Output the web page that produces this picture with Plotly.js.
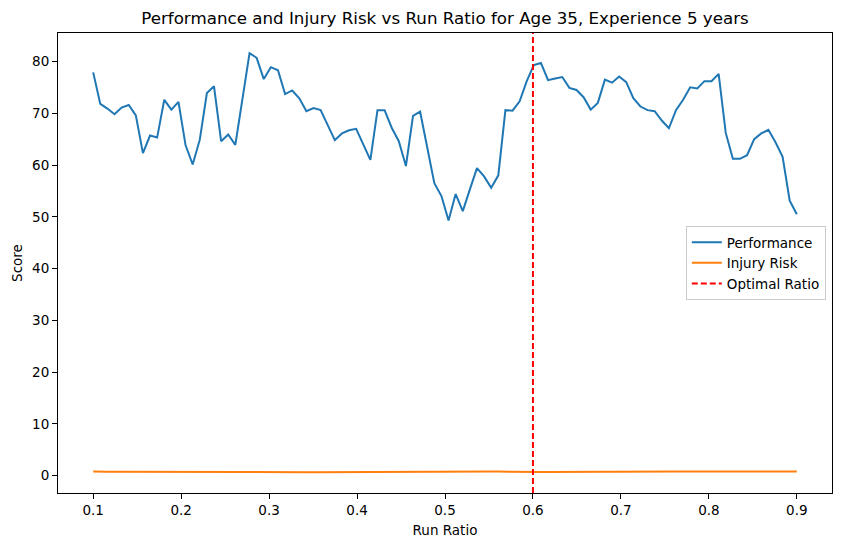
<!DOCTYPE html>
<html>
<head>
<meta charset="utf-8">
<script src="https://cdn.plot.ly/plotly-3.0.1.min.js"></script>
<style>html,body{margin:0;padding:0;background:#fff;}#chart{width:841px;height:547px;}</style>
</head>
<body>
<div id="chart"></div>
<script>
const xStart = 0.1;
const xEnd = 0.9;
const performance = [
  77.9, 71.8, 70.9, 69.8, 71.1, 71.6, 69.6, 62.3, 65.7, 65.3,
  72.6, 70.7, 72.2, 63.8, 60.1, 64.9, 73.9, 75.2, 64.6, 65.9,
  63.9, 72.9, 81.6, 80.7, 76.6, 78.9, 78.3, 73.7, 74.4, 72.9,
  70.4, 71.0, 70.6, 67.7, 64.8, 66.1, 66.7, 67.0, 63.9, 61.0,
  70.6, 70.6, 67.2, 64.6, 59.8, 69.5, 70.3, 63.5, 56.5, 54.0,
  49.3, 54.4, 51.1, 55.3, 59.4, 57.8, 55.6, 58.0, 70.6, 70.5,
  72.3, 76.2, 79.3, 79.7, 76.4, 76.7, 77.0, 74.9, 74.5, 73.1,
  70.7, 72.0, 76.5, 75.9, 77.1, 76.0, 72.9, 71.3, 70.6, 70.4,
  68.6, 67.1, 70.6, 72.6, 75.0, 74.8, 76.2, 76.2, 77.6, 66.2,
  61.2, 61.2, 61.9, 65.0, 66.1, 66.8, 64.4, 61.6, 53.1, 50.5
];
const injuryRisk = [
  0.78, 0.72, 0.74, 0.76, 0.75, 0.74, 0.72, 0.70, 0.71, 0.70,
  0.72, 0.74, 0.73, 0.70, 0.71, 0.72, 0.71, 0.73, 0.72, 0.69,
  0.68, 0.70, 0.71, 0.72, 0.74, 0.73, 0.71, 0.70, 0.68, 0.66,
  0.67, 0.66, 0.67, 0.68, 0.70, 0.69, 0.70, 0.71, 0.74, 0.72,
  0.71, 0.73, 0.76, 0.82, 0.79, 0.77, 0.82, 0.84, 0.83, 0.86,
  0.88, 0.87, 0.86, 0.85, 0.83, 0.80, 0.82, 0.79, 0.76, 0.73,
  0.70, 0.66, 0.68, 0.71, 0.73, 0.75, 0.74, 0.72, 0.73, 0.74,
  0.76, 0.77, 0.76, 0.75, 0.74, 0.73, 0.74, 0.75, 0.74, 0.75,
  0.76, 0.78, 0.79, 0.80, 0.79, 0.80, 0.81, 0.80, 0.79, 0.78,
  0.79, 0.80, 0.80, 0.79, 0.80, 0.81, 0.80, 0.79, 0.80, 0.80
];
const optimalRatio = 0.6;
const xTicks = [0.1, 0.2, 0.3, 0.4, 0.5, 0.6, 0.7, 0.8, 0.9];
const yTicks = [0, 10, 20, 30, 40, 50, 60, 70, 80];

const n = performance.length;
const runRatio = performance.map((_, i) => xStart + (xEnd - xStart) * i / (n - 1));

const traces = [
  {x: runRatio, y: performance, type: 'scatter', mode: 'lines', name: 'Performance',
   line: {color: '#1f77b4', width: 2}},
  {x: runRatio, y: injuryRisk, type: 'scatter', mode: 'lines', name: 'Injury Risk',
   line: {color: '#ff7f0e', width: 2}},
  {x: [null], y: [null], type: 'scatter', mode: 'lines', name: 'Optimal Ratio',
   line: {color: 'red', width: 2, dash: '6px,3px'}}
];

const font = {family: 'DejaVu Sans, sans-serif', color: '#000', size: 13.5};
const layout = {
  width: 841, height: 547,
  margin: {l: 58, r: 9, t: 33, b: 54},
  paper_bgcolor: '#fff', plot_bgcolor: '#fff',
  font: font,
  showlegend: true,
  title: {text: 'Performance and Injury Risk vs Run Ratio for Age 35, Experience 5 years',
          font: {family: 'DejaVu Sans, sans-serif', size: 16.7, color: '#000'},
          x: 0.5, xref: 'paper', y: 0.967, yref: 'container', yanchor: 'middle'},
  xaxis: {range: [0.06, 0.94], tickvals: xTicks, ticktext: xTicks.map(v => v.toFixed(1)),
          showgrid: false, zeroline: false, showline: true, mirror: true, linecolor: '#000', linewidth: 1,
          ticks: 'outside', ticklen: 5, tickcolor: '#000', tickwidth: 1,
          title: {text: 'Run Ratio', font: font, standoff: 8}},
  yaxis: {range: [-3.35, 85.5], tickvals: yTicks, ticktext: yTicks.map(String),
          showgrid: false, zeroline: false, showline: true, mirror: true, linecolor: '#000', linewidth: 1,
          ticks: 'outside', ticklen: 5, tickcolor: '#000', tickwidth: 1,
          title: {text: 'Score', font: font, standoff: 6}},
  legend: {x: 0.992, xanchor: 'right', y: 0.50, yanchor: 'middle',
           bgcolor: 'rgba(255,255,255,0.8)', bordercolor: '#ccc', borderwidth: 1,
           font: font, tracegroupgap: 0, itemwidth: 30},
  shapes: [{type: 'line', xref: 'x', yref: 'paper', x0: optimalRatio, x1: optimalRatio, y0: 0, y1: 1,
            line: {color: 'red', width: 2, dash: '6px,3px'}}]
};

Plotly.newPlot('chart', traces, layout, {displayModeBar: false, staticPlot: true});
</script>
</body>
</html>
